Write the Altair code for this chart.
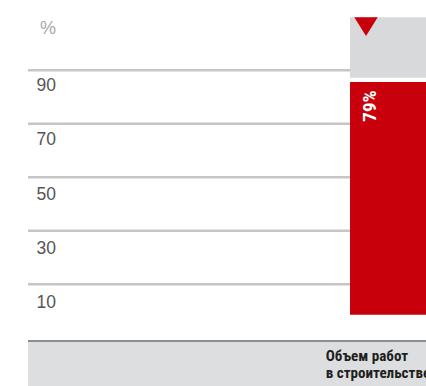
import altair as alt
import pandas as pd

# Values
categories = ["Объем работ\nв строительстве"]
shares = [79]                      # red part of the 100% column
totals = [100]
grid_values = [100, 80, 60, 40, 20]
tick_labels = [90, 70, 50, 30, 10]

RED = "#c8000b"
GREY_BAR = "#d8d9db"
GRID = "#c6c6c6"
BAND = "#dcdedf"
NARROW = "Liberation Sans Narrow, Roboto Condensed, DejaVu Sans Condensed, sans-serif"

bars = pd.DataFrame({"cat": categories, "share": shares, "total": totals})
grid = pd.DataFrame({"g": grid_values})
ticks = pd.DataFrame({"t": tick_labels, "label": [str(v) for v in tick_labels]})

x_band = alt.Scale(domain=categories, range=[350, 450], paddingInner=0, paddingOuter=0)
y_bar = alt.Scale(domain=[0, 100], range=[314.7, 20.0])
y_grid = alt.Scale(domain=[0, 100], range=[337.7, 70.2])
y_tick = alt.Scale(domain=[0, 100], range=[335.5, 63.5])

# bottom category band with its top border
band = alt.Chart(bars).mark_rect(color=BAND).encode(
    x=alt.value(28), x2=alt.value(426), y=alt.value(341), y2=alt.value(386)
)
band_top = alt.Chart(bars).mark_rule(color="#8d8d8d", strokeWidth=2).encode(
    x=alt.value(28), x2=alt.value(426), y=alt.value(341)
)

gridlines = alt.Chart(grid).mark_rule(color=GRID, strokeWidth=2.4).encode(
    y=alt.Y("g:Q", scale=y_grid, axis=None),
    x=alt.value(28), x2=alt.value(350),
)

tick_text = alt.Chart(ticks).mark_text(
    align="left", baseline="alphabetic", font="Liberation Sans", fontSize=17.5, color="#555555"
).encode(
    y=alt.Y("t:Q", scale=y_tick, axis=None),
    x=alt.value(36.5),
    text="label:N",
)

unit_text = alt.Chart(bars).mark_text(
    align="left", baseline="alphabetic", font="Liberation Sans", fontSize=18, color="#a8a8a8"
).encode(x=alt.value(40), y=alt.value(33.5), text=alt.value("%"))

base = alt.Chart(bars)

grey_part = base.mark_bar(color=GREY_BAR, y2Offset=-4.2, yOffset=-2.7).encode(
    x=alt.X("cat:N", scale=x_band, axis=None),
    y=alt.Y("total:Q", scale=y_bar, axis=None),
    y2="share:Q",
)

red_part = base.mark_bar(color=RED).encode(
    x=alt.X("cat:N", scale=x_band, axis=None),
    y=alt.Y("share:Q", scale=y_bar, axis=None),
    y2=alt.datum(0),
)

marker = base.mark_point(
    shape="M-1,-0.8L1,-0.8L0,0.8Z", filled=True, color=RED, opacity=1, size=548,
    xOffset=16, yOffset=6.7,
).encode(
    x=alt.X("cat:N", scale=x_band, axis=None, bandPosition=0),
    y=alt.Y("total:Q", scale=y_bar, axis=None),
)

value_text = base.transform_calculate(label="datum.share + '%'").mark_text(
    angle=270, align="right", baseline="alphabetic", font=NARROW, fontWeight="bold",
    fontSize=19, color="white", xOffset=26, yOffset=8.4,
).encode(
    x=alt.X("cat:N", scale=x_band, axis=None, bandPosition=0),
    y=alt.Y("share:Q", scale=y_bar, axis=None),
    text="label:N",
)

cat_text = base.mark_text(
    align="left", baseline="alphabetic", font=NARROW, fontWeight="bold", fontSize=15.1,
    color="#1e1e1e", lineBreak="\n", lineHeight=17, xOffset=-24.3,
).encode(
    x=alt.X("cat:N", scale=x_band, axis=None, bandPosition=0),
    y=alt.value(361.3),
    text="cat:N",
)

chart = alt.layer(
    band, band_top, gridlines, tick_text, unit_text,
    grey_part, red_part, marker, value_text, cat_text,
).resolve_scale(y="independent").properties(
    width=426, height=386, padding=0, autosize=alt.AutoSizeParams(type="none"),
    background="white",
).configure_view(stroke=None)

chart.save("out.html", embed_options={"renderer": "svg", "actions": False})
